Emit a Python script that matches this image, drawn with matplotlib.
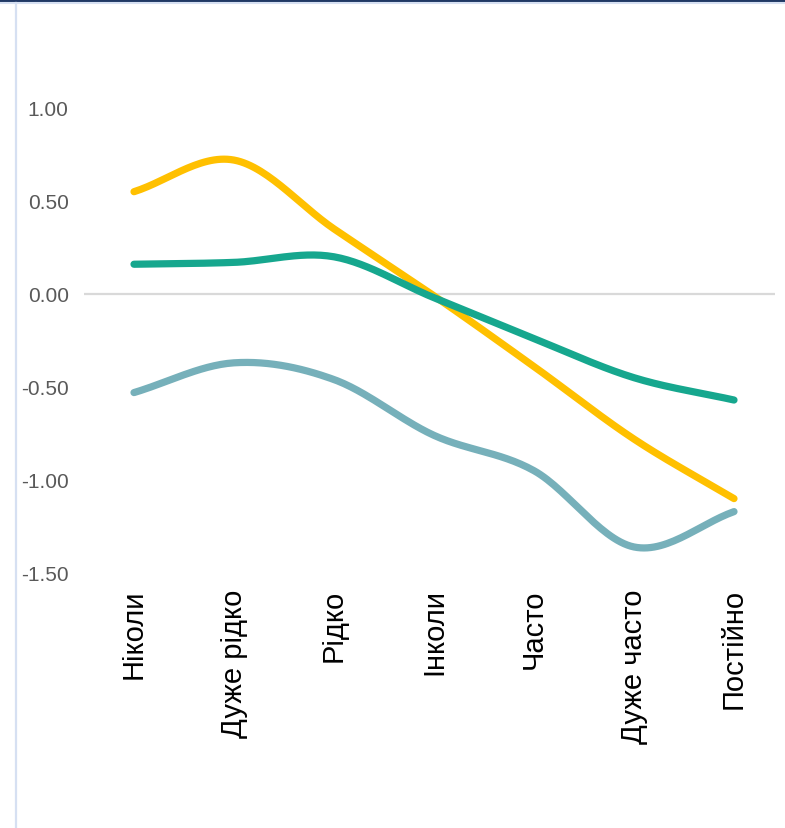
import matplotlib
matplotlib.use("Agg")
import matplotlib.pyplot as plt
import numpy as np
from matplotlib.lines import Line2D

# data
categories = ["Ніколи", "Дуже рідко", "Рідко", "Інколи", "Часто", "Дуже часто", "Постійно"]
yellow_vals = [0.55, 0.72, 0.35, -0.01, -0.39, -0.78, -1.10]
green_vals = [0.16, 0.17, 0.20, -0.02, -0.24, -0.45, -0.57]
teal_vals = [-0.53, -0.37, -0.46, -0.76, -0.95, -1.36, -1.17]
y_ticks = [1.0, 0.5, 0.0, -0.5, -1.0, -1.5]

series = [
    (yellow_vals, "#FFC000"),
    (green_vals, "#16A78E"),
    (teal_vals, "#76B0BA"),
]


def smooth(xs, ys, n=30):
    # catmull-rom curve through the points (like excel's smoothed line)
    xs = np.asarray(xs, float)
    ys = np.asarray(ys, float)
    px = np.concatenate([[2 * xs[0] - xs[1]], xs, [2 * xs[-1] - xs[-2]]])
    py = np.concatenate([[ys[0]], ys, [ys[-1]]])
    py[0] = ys[0] - (ys[1] - ys[0])
    py[-1] = ys[-1] + (ys[-1] - ys[-2])
    out_x, out_y = [], []
    t = np.linspace(0, 1, n, endpoint=False)
    for i in range(1, len(px) - 2):
        for arr, out in ((px, out_x), (py, out_y)):
            p0, p1, p2, p3 = arr[i - 1], arr[i], arr[i + 1], arr[i + 2]
            out.extend(0.5 * ((2 * p1) + (-p0 + p2) * t
                              + (2 * p0 - 5 * p1 + 4 * p2 - p3) * t ** 2
                              + (-p0 + 3 * p1 - 3 * p2 + p3) * t ** 3))
    out_x.append(xs[-1])
    out_y.append(ys[-1])
    return np.array(out_x), np.array(out_y)


plt.rcParams["font.family"] = ["Liberation Sans", "DejaVu Sans"]

fig = plt.figure(figsize=(7.85, 8.29), dpi=100)
ax = fig.add_axes([84 / 785, 1 - 574 / 829, (775 - 84) / 785, (574 - 16) / 829])

x = np.arange(len(categories))
ax.axhline(0, color="#D9D9D9", lw=1.6, zorder=1)
for vals, col in series:
    sx, sy = smooth(x, vals)
    ax.plot(sx, sy, color=col, lw=5.2, solid_capstyle="round", zorder=3)

ax.set_xlim(-0.5, 6.41)
ax.set_ylim(-1.5, 1.5)
ax.set_yticks(y_ticks)
ax.set_yticklabels([f"{v:.2f}" for v in y_ticks], color="#595959", fontsize=15)
ax.set_xticks(x)
ax.set_xticklabels(categories, rotation=90, fontsize=21, color="black", va="top")
ax.tick_params(axis="y", length=0, pad=11)
ax.tick_params(axis="x", length=0, pad=11)
for s in ax.spines.values():
    s.set_visible(False)

# frame pieces of the surrounding panel
fig.add_artist(Line2D([0, 1], [1 - 1.7 / 829, 1 - 1.7 / 829], color="#203864", lw=2.6))
fig.add_artist(Line2D([0, 1], [1 - 4.3 / 829, 1 - 4.3 / 829], color="#D6E0F2", lw=1.5))
fig.add_artist(Line2D([15.5 / 785, 15.5 / 785], [0, 1 - 4 / 829], color="#D6E0F2", lw=1.6))

fig.savefig("out.png", dpi=100)
